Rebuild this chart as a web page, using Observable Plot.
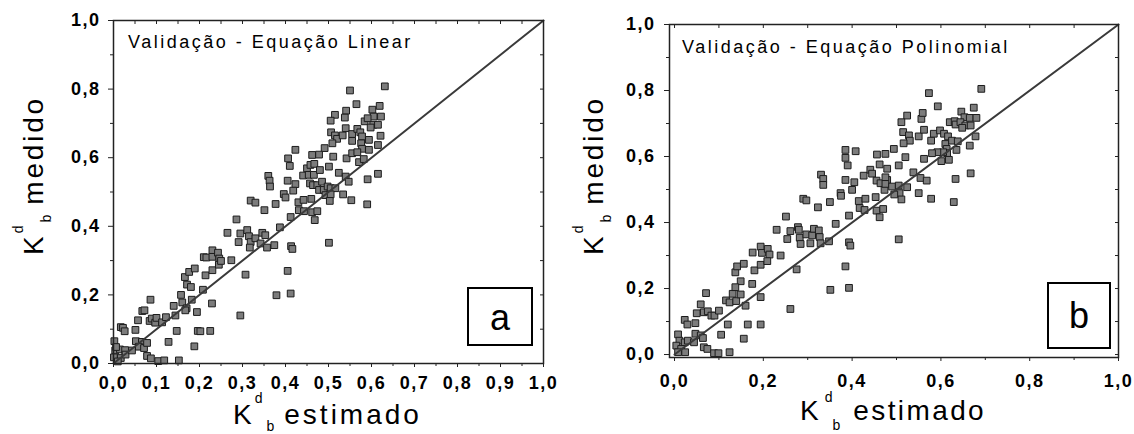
<!DOCTYPE html>
<html><head><meta charset="utf-8">
<script src="https://cdn.jsdelivr.net/npm/d3@7"></script>
<script src="https://cdn.jsdelivr.net/npm/@observablehq/plot@0.6"></script>
<style>
html,body{margin:0;padding:0;background:#fff;}
#wrap{position:relative;width:1134px;height:434px;overflow:hidden;font-family:"Liberation Sans",Arial,sans-serif;}
#wrap svg{position:absolute;top:0;}
#wrap g[aria-label="x-axis tick label"] text,#wrap g[aria-label="y-axis tick label"] text{letter-spacing:1.5px;}
</style></head><body><div id="wrap"></div>
<script>
// ---------- data ----------
const titleA = "Validação - Equação Linear";
const titleB = "Validação - Equação Polinomial";
const labelA = "a", labelB = "b";
const xWord = "estimado", yWord = "medido";
const symK = "K", supD = "d", subB = "b";

// Panel a: [K estimado, K medido]
const pontosA = [
[0.004,0.038],[0.015,0.041],[0.027,0.039],[0.001,0.018],[0.017,0.016],[0.028,0.026],[0.043,0.038],[0.010,0.006],[0.002,0.065],[0.006,0.048],
[0.052,0.065],[0.066,0.063],[0.059,0.049],[0.071,0.045],[0.078,0.060],[0.078,0.022],[0.087,0.015],
[0.104,0.007],[0.118,0.009],[0.152,0.009],
[0.128,0.063],[0.147,0.095],[0.188,0.050],[0.196,0.095],[0.225,0.095],[0.229,0.175],[0.194,0.150],
[0.017,0.106],[0.022,0.104],[0.026,0.094],[0.051,0.098],[0.057,0.126],[0.067,0.153],[0.072,0.155],[0.086,0.186],
[0.084,0.124],[0.089,0.131],[0.097,0.119],[0.100,0.133],[0.113,0.120],[0.122,0.135],[0.140,0.168],[0.144,0.140],
[0.157,0.200],[0.160,0.178],[0.170,0.161],[0.167,0.155],
[0.166,0.252],[0.171,0.230],[0.176,0.267],[0.180,0.223],[0.189,0.277],[0.182,0.186],
[0.208,0.215],[0.210,0.310],[0.216,0.309],[0.214,0.257],
[0.230,0.330],[0.230,0.311],[0.230,0.272],[0.243,0.323],[0.246,0.306],[0.245,0.288],[0.250,0.299],
[0.274,0.301],[0.307,0.259],[0.295,0.140],[0.202,0.094],
[0.265,0.381],[0.286,0.420],[0.295,0.379],[0.311,0.389],[0.315,0.371],[0.291,0.354],[0.319,0.354],[0.317,0.338],[0.330,0.365],[0.346,0.381],[0.353,0.374],[0.342,0.350],[0.357,0.338],[0.374,0.345],[0.387,0.397],
[0.351,0.447],[0.379,0.199],[0.412,0.204],[0.405,0.270],[0.413,0.342],[0.416,0.334],[0.412,0.427],
[0.319,0.475],[0.330,0.469],[0.377,0.465],[0.396,0.494],[0.400,0.484],
[0.360,0.547],[0.363,0.533],[0.364,0.516],[0.405,0.533],[0.410,0.576],[0.406,0.598],[0.423,0.523],[0.418,0.504],[0.441,0.548],
[0.430,0.470],[0.442,0.477],[0.431,0.447],[0.443,0.444],[0.460,0.480],[0.462,0.441],[0.474,0.444],[0.468,0.418],
[0.501,0.352],
[0.550,0.796],[0.631,0.808],[0.565,0.756],[0.541,0.737],[0.538,0.717],[0.515,0.725],[0.505,0.708],[0.602,0.740],[0.619,0.751],
[0.584,0.706],[0.605,0.720],[0.622,0.720],[0.604,0.696],[0.615,0.696],[0.598,0.688],[0.591,0.715],
[0.506,0.674],[0.515,0.665],[0.520,0.655],[0.533,0.665],[0.540,0.686],[0.555,0.669],[0.567,0.684],[0.574,0.674],[0.578,0.662],[0.576,0.642],[0.578,0.626],[0.555,0.649],[0.594,0.652],[0.621,0.664],
[0.491,0.628],[0.509,0.642],[0.423,0.623],[0.462,0.608],[0.478,0.609],[0.511,0.603],[0.542,0.598],[0.555,0.613],[0.567,0.616],[0.571,0.587],[0.582,0.596],[0.594,0.623],[0.615,0.637],
[0.450,0.569],[0.458,0.579],[0.467,0.582],[0.454,0.550],[0.466,0.550],[0.480,0.564],[0.501,0.574],[0.524,0.556],[0.540,0.545],[0.547,0.530],[0.591,0.537],[0.615,0.553],
[0.457,0.525],[0.464,0.520],[0.474,0.520],[0.485,0.530],[0.478,0.506],[0.489,0.506],[0.498,0.516],[0.505,0.511],[0.516,0.511],[0.493,0.491],[0.505,0.493],[0.503,0.474],[0.534,0.493],[0.553,0.476],[0.590,0.464]
];

// Panel b: [K estimado, K medido]
const pontosB = [
[0.008,0.061],[0.011,0.042],[0.023,0.037],[0.030,0.042],[0.004,0.027],[0.015,0.017],[0.008,0.007],[0.024,0.007],[0.044,0.037],[0.047,0.063],[0.059,0.058],[0.064,0.050],[0.066,0.022],[0.074,0.017],[0.089,0.004],[0.099,0.004],[0.124,0.007],[0.105,0.060],[0.156,0.048],
[0.023,0.105],[0.029,0.091],[0.047,0.095],[0.050,0.125],[0.059,0.152],[0.066,0.128],[0.071,0.186],[0.075,0.131],[0.083,0.118],[0.090,0.118],[0.100,0.133],[0.116,0.164],[0.124,0.158],[0.131,0.184],[0.139,0.162],[0.149,0.182],[0.160,0.148],[0.120,0.091],[0.165,0.091],[0.194,0.091],
[0.137,0.249],[0.141,0.267],[0.149,0.222],[0.137,0.204],[0.156,0.275],[0.175,0.214],[0.180,0.255],[0.194,0.272],[0.176,0.309],[0.194,0.327],[0.197,0.308],[0.210,0.320],[0.214,0.303],[0.209,0.283],[0.194,0.174],
[0.385,0.596],[0.390,0.573],[0.408,0.616],[0.385,0.620],[0.456,0.606],[0.475,0.608],[0.330,0.545],[0.335,0.532],[0.335,0.514],[0.385,0.529],[0.405,0.522],[0.400,0.499],[0.374,0.489],[0.375,0.481],[0.426,0.542],[0.441,0.560],[0.445,0.548],[0.462,0.576],[0.455,0.527],[0.464,0.519],[0.479,0.529],[0.479,0.563],[0.473,0.499],
[0.290,0.472],[0.297,0.467],[0.350,0.462],[0.323,0.446],[0.415,0.465],[0.430,0.472],[0.453,0.477],[0.417,0.444],[0.428,0.438],[0.455,0.436],[0.470,0.441],[0.462,0.416],[0.393,0.421],[0.363,0.396],
[0.251,0.418],[0.230,0.378],[0.261,0.374],[0.278,0.386],[0.280,0.378],[0.254,0.350],[0.282,0.354],[0.297,0.364],[0.310,0.361],[0.314,0.381],[0.325,0.376],[0.327,0.356],[0.306,0.337],[0.329,0.337],[0.348,0.343],[0.284,0.335],[0.393,0.340],[0.396,0.330],
[0.239,0.300],[0.275,0.258],[0.385,0.267],[0.351,0.196],[0.393,0.202],[0.261,0.138],
[0.573,0.792],[0.691,0.805],[0.593,0.752],[0.674,0.748],[0.524,0.724],[0.511,0.704],[0.556,0.714],[0.559,0.732],[0.646,0.736],[0.653,0.719],[0.665,0.717],[0.680,0.717],[0.620,0.704],[0.631,0.707],[0.633,0.697],[0.644,0.704],[0.655,0.694],[0.667,0.694],[0.648,0.687],[0.678,0.661],
[0.515,0.674],[0.528,0.664],[0.530,0.648],[0.516,0.640],[0.550,0.661],[0.562,0.681],[0.578,0.648],[0.584,0.669],[0.598,0.679],[0.607,0.669],[0.616,0.661],[0.610,0.638],[0.613,0.623],[0.625,0.648],[0.638,0.646],[0.635,0.620],[0.665,0.633],[0.614,0.610],[0.605,0.613],[0.592,0.613],[0.580,0.610],[0.601,0.586],[0.618,0.590],
[0.494,0.623],[0.520,0.598],[0.505,0.573],[0.562,0.593],[0.475,0.537],[0.475,0.517],[0.490,0.509],[0.505,0.512],[0.524,0.507],[0.538,0.552],[0.554,0.535],[0.568,0.527],[0.550,0.489],[0.507,0.489],[0.511,0.470],[0.495,0.485],[0.633,0.532],[0.667,0.549],[0.578,0.472],[0.629,0.462],[0.505,0.349]
];

// reference 1:1 line
const identidade = [0, 1];

// tick values
const ticksA_x = [0,0.1,0.2,0.3,0.4,0.5,0.6,0.7,0.8,0.9,1.0];
const minorA_x = [0.05,0.15,0.25,0.35,0.45,0.55,0.65,0.75,0.85,0.95];
const ticksB_x = [0,0.2,0.4,0.6,0.8,1.0];
const minorB_x = [0.1,0.3,0.5,0.7,0.9];
const ticks_y = [0,0.2,0.4,0.6,0.8,1.0];
const minor_y = [0.1,0.3,0.5,0.7,0.9];
const all_tenths = [0,0.1,0.2,0.3,0.4,0.5,0.6,0.7,0.8,0.9,1.0];
const all_twentieths = [0,0.05,0.1,0.15,0.2,0.25,0.3,0.35,0.4,0.45,0.5,0.55,0.6,0.65,0.7,0.75,0.8,0.85,0.9,0.95,1.0];

// ---------- drawing ----------
const FF = "Liberation Sans, Arial, sans-serif";
const fmt = d => d.toFixed(1).replace(".", ",");

function panel(cfg) {
  const pts = cfg.pontos.map(([x, y]) => ({x, y}));
  return Plot.plot({
    width: 567, height: 434,
    marginLeft: cfg.m[0], marginRight: cfg.m[1], marginTop: cfg.m[2], marginBottom: cfg.m[3],
    x: {domain: cfg.xd}, y: {domain: cfg.yd},
    style: {fontFamily: FF, background: "transparent", color: "#000"},
    marks: [
      Plot.dot(pts, {x: "x", y: "y", symbol: "square", r: 3.8, fill: "#7c7c7c", stroke: "#1c1c1c", strokeWidth: 1}),
      Plot.line(identidade, {x: d => d, y: d => d, stroke: "#3a3a3a", strokeWidth: 2}),
      Plot.frame({stroke: "#222", strokeWidth: 1.5}),
      Plot.axisX(cfg.xMinor, {anchor: "bottom", tickSize: 3, fill: "none", label: null, stroke: "#222"}),
      Plot.axisX(cfg.xTicks, {anchor: "bottom", tickSize: 4, tickPadding: cfg.xPad, tickFormat: fmt, fontSize: 18, fontWeight: "bold", label: null, stroke: "#222"}),
      Plot.axisY(minor_y, {anchor: "left", tickSize: 3, fill: "none", label: null, stroke: "#222"}),
      Plot.axisY(ticks_y, {anchor: "left", tickSize: 5, tickPadding: cfg.yPad, tickFormat: fmt, fontSize: 18, fontWeight: "bold", label: null, stroke: "#222"}),
      Plot.axisX(cfg.topTicks, {anchor: "top", tickSize: -3, fill: "none", label: null, stroke: "#222"}),
      Plot.axisY(all_tenths, {anchor: "right", tickSize: -4, fill: "none", label: null, stroke: "#222"})
    ]
  });
}

function decorate(svg, o) {
  const s = d3.select(svg);
  s.append("text").attr("x", o.tx).attr("y", o.ty).attr("text-anchor", "start").attr("font-family", FF).attr("font-size", 18)
    .attr("letter-spacing", 2.5).attr("fill", "#000").text(o.title);
  s.append("rect").attr("x", o.box[0]).attr("y", o.box[1]).attr("width", o.box[2]).attr("height", o.box[3])
    .attr("fill", "#fff").attr("stroke", "#000").attr("stroke-width", 2);
  s.append("text").attr("x", o.box[0] + o.box[2] / 2).attr("y", o.lb).attr("text-anchor", "middle")
    .attr("font-family", FF).attr("font-size", 36).attr("fill", "#000").text(o.label);
  const xt = s.append("text").attr("x", o.xt[0]).attr("y", o.xt[1]).attr("text-anchor", "start")
    .attr("font-family", FF).attr("font-size", 28).attr("fill", "#000");
  xt.append("tspan").text(symK);
  xt.append("tspan").attr("font-size", 14).attr("dx", o.xs[0]).attr("dy", o.xs[1]).text(supD);
  xt.append("tspan").attr("font-size", 14).attr("dx", o.xs[2]).attr("dy", o.xs[3]).text(subB);
  xt.append("tspan").attr("dx", o.xs[4]).attr("dy", o.xs[5]).attr("letter-spacing", o.ls).text(xWord);
  const yt = s.append("text").attr("transform", `translate(${o.yt[0]},${o.yt[1]}) rotate(-90)`).attr("text-anchor", "start")
    .attr("font-family", FF).attr("font-size", 28).attr("fill", "#000");
  yt.append("tspan").text(symK);
  yt.append("tspan").attr("font-size", 14).attr("dx", 3).attr("dy", -20).text(supD);
  yt.append("tspan").attr("font-size", 14).attr("dx", 3).attr("dy", 28).text(subB);
  yt.append("tspan").attr("dx", 10).attr("dy", -8).attr("letter-spacing", 2.8).text(yWord);
}

const wrap = document.getElementById("wrap");

const svgA = panel({pontos: pontosA, xd: [0, 1], yd: [0, 1], m: [113, 24, 20, 71],
  xTicks: ticksA_x, xMinor: minorA_x, topTicks: all_twentieths, xPad: 9, yPad: 8});
svgA.style.left = "0px";
wrap.appendChild(svgA);
decorate(svgA, {title: titleA, tx: 128, ty: 48, box: [468, 288, 64, 57], lb: 330, label: labelA,
  xt: [233, 424], xs: [3, -21, 4, 28, 10, -7], ls: 3, yt: [43, 255]});

const svgB = panel({pontos: pontosB, xd: [-0.0113, 1], yd: [-0.009, 1], m: [102, 16, 24, 77],
  xTicks: ticksB_x, xMinor: minorB_x, topTicks: all_tenths, xPad: 13, yPad: 9});
svgB.style.left = "567px";
wrap.appendChild(svgB);
decorate(svgB, {title: titleB, tx: 115, ty: 53, box: [481, 283, 62, 65], lb: 328, label: labelB,
  xt: [233, 420], xs: [6, -18, 0, 28, 13, -10], ls: 2.4, yt: [36, 255]});
</script></body></html>
